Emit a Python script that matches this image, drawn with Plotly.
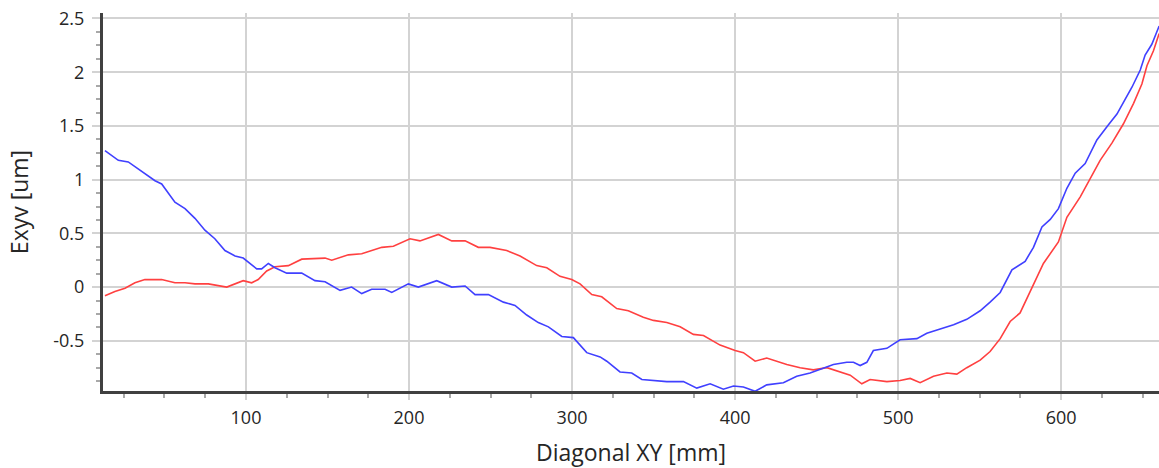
import plotly.graph_objects as go

# Blue series (Diagonal XY [mm], Exyv [um])
blue_x = [13.5, 21.7, 27.8, 33.9, 44.2, 48.3, 56.4, 62.6, 68.7, 74.8, 80.9, 87.1, 93.3, 98.3,
          106.6, 109.6, 113.7, 117.8, 125.0, 134.2, 142.3, 148.5, 157.7, 164.8, 171.0, 177.1,
          185.3, 189.4, 199.6, 205.7, 217.0, 226.2, 234.4, 240.5, 248.7, 257.9, 265.0, 272.2,
          279.3, 285.5, 293.7, 300.8, 309.0, 317.2, 321.3, 329.4, 336.6, 342.8, 349.9, 358.1,
          368.3, 376.5, 384.7, 392.8, 399.0, 405.1, 412.3, 419.4, 429.6, 437.8, 446.0, 454.2,
          460.3, 468.5, 472.6, 476.7, 480.8, 484.8, 493.1, 496.1, 501.2, 511.5, 517.6, 525.8,
          534.0, 542.1, 550.3, 556.4, 562.6, 569.8, 577.9, 583.0, 588.2, 593.3, 598.3, 603.5,
          608.6, 614.7, 621.9, 629.0, 634.2, 639.3, 643.4, 648.5, 651.5, 655.6, 660.1]
blue_y = [1.27, 1.18, 1.165, 1.10, 0.99, 0.96, 0.79, 0.73, 0.64, 0.53, 0.45, 0.34, 0.29, 0.27,
          0.17, 0.17, 0.22, 0.18, 0.13, 0.13, 0.06, 0.05, -0.03, 0.0, -0.06, -0.02,
          -0.02, -0.05, 0.03, 0.0, 0.06, 0.0, 0.01, -0.07, -0.07, -0.14, -0.17, -0.26,
          -0.33, -0.37, -0.46, -0.47, -0.61, -0.65, -0.69, -0.79, -0.80, -0.86, -0.87, -0.88,
          -0.88, -0.94, -0.90, -0.95, -0.92, -0.93, -0.97, -0.91, -0.89, -0.83, -0.80, -0.75,
          -0.72, -0.70, -0.70, -0.73, -0.70, -0.59, -0.57, -0.54, -0.49, -0.48, -0.43, -0.39,
          -0.35, -0.30, -0.22, -0.14, -0.05, 0.16, 0.24, 0.37, 0.56, 0.63, 0.73, 0.92,
          1.06, 1.15, 1.37, 1.51, 1.61, 1.75, 1.86, 2.02, 2.16, 2.26, 2.43]

# Red series
red_x = [13.5, 19.6, 25.8, 31.9, 38.0, 48.3, 56.4, 62.6, 68.7, 76.9, 88.2, 93.3, 98.3, 103.5,
         107.5, 112.7, 117.8, 126.0, 134.2, 148.5, 152.6, 162.8, 171.0, 183.3, 190.4, 200.6,
         206.7, 218.0, 226.2, 234.4, 242.5, 249.7, 259.9, 268.1, 278.3, 284.5, 292.6, 299.8,
         304.9, 312.1, 318.2, 327.4, 334.5, 343.7, 349.9, 358.1, 366.3, 374.4, 380.6, 390.8,
         400.0, 405.1, 412.3, 419.4, 431.7, 439.9, 448.0, 456.3, 464.4, 470.6, 477.7, 482.8,
         493.1, 501.2, 507.4, 513.5, 521.7, 529.9, 536.0, 542.1, 550.3, 556.4, 562.6, 568.7,
         574.8, 583.0, 589.1, 598.3, 603.5, 611.7, 617.8, 623.9, 631.1, 638.2, 644.4, 649.5,
         652.6, 656.6, 660.1]
red_y = [-0.08, -0.04, -0.01, 0.04, 0.07, 0.07, 0.04, 0.04, 0.03, 0.03, 0.0, 0.03, 0.06, 0.04,
         0.07, 0.15, 0.19, 0.20, 0.26, 0.27, 0.25, 0.30, 0.31, 0.37, 0.38, 0.45,
         0.43, 0.49, 0.43, 0.43, 0.37, 0.37, 0.34, 0.29, 0.20, 0.18, 0.10, 0.07,
         0.03, -0.07, -0.09, -0.20, -0.22, -0.28, -0.31, -0.33, -0.37, -0.44, -0.45, -0.54,
         -0.59, -0.61, -0.69, -0.66, -0.72, -0.75, -0.77, -0.75, -0.79, -0.82, -0.90, -0.86,
         -0.88, -0.87, -0.85, -0.89, -0.83, -0.80, -0.81, -0.75, -0.68, -0.60, -0.48, -0.32,
         -0.24, 0.03, 0.22, 0.42, 0.65, 0.84, 1.01, 1.18, 1.34, 1.52, 1.71, 1.89,
         2.06, 2.20, 2.36]

x_title = "Diagonal XY [mm]"
y_title = "Exyv [um]"
x_tickvals = [100, 200, 300, 400, 500, 600]
y_tickvals = [-0.5, 0, 0.5, 1, 1.5, 2, 2.5]
y_ticktext = ["-0.5", "0", "0.5", "1", "1.5", "2", "2.5"]

font_family = "Open Sans, Noto Sans, sans-serif"

fig = go.Figure()
fig.add_trace(go.Scatter(x=red_x, y=red_y, mode="lines",
                         line=dict(color="#ff4040", width=1.6), showlegend=False))
fig.add_trace(go.Scatter(x=blue_x, y=blue_y, mode="lines",
                         line=dict(color="#4040ff", width=1.6), showlegend=False))

grid_color = "#d3d3d3"
text_color = "#262626"
fig.update_layout(
    width=1159, height=468,
    margin=dict(l=103, r=0, t=13, b=77),
    paper_bgcolor="white", plot_bgcolor="white",
    font=dict(family=font_family, color=text_color),
    xaxis=dict(
        range=[12.3, 660], tickvals=x_tickvals,
        showgrid=True, gridcolor=grid_color, gridwidth=2,
        showline=True, linecolor="#404040", linewidth=3,
        ticks="outside", ticklen=6, tickwidth=2, tickcolor=grid_color,
        tickfont=dict(size=18, color=text_color),
        ticklabelstandoff=2,
        minor=dict(dtick=25, tick0=0, ticks="outside", ticklen=4, tickwidth=2,
                   tickcolor="#a8a8a8", showgrid=False),
        title=dict(text=x_title, font=dict(size=23, color=text_color), standoff=18),
        zeroline=False, automargin=False,
    ),
    yaxis=dict(
        range=[-0.967, 2.551], tickvals=y_tickvals, ticktext=y_ticktext,
        showgrid=True, gridcolor=grid_color, gridwidth=2,
        showline=True, linecolor="#404040", linewidth=3,
        ticks="outside", ticklen=8, tickwidth=2, tickcolor=grid_color,
        tickfont=dict(size=18, color=text_color),
        ticklabelstandoff=4,
        minor=dict(dtick=0.125, tick0=0, ticks="outside", ticklen=4, tickwidth=2,
                   tickcolor="#a8a8a8", showgrid=False),
        title=dict(text=y_title, font=dict(size=23, color=text_color), standoff=19),
        zeroline=False, automargin=False,
    ),
)

# remove the default 8px page margin so the figure fills the window exactly
fig.write_html(
    "out.html",
    config={"displayModeBar": False},
    post_script="document.body.style.margin='0';document.body.style.overflow='hidden';",
)
